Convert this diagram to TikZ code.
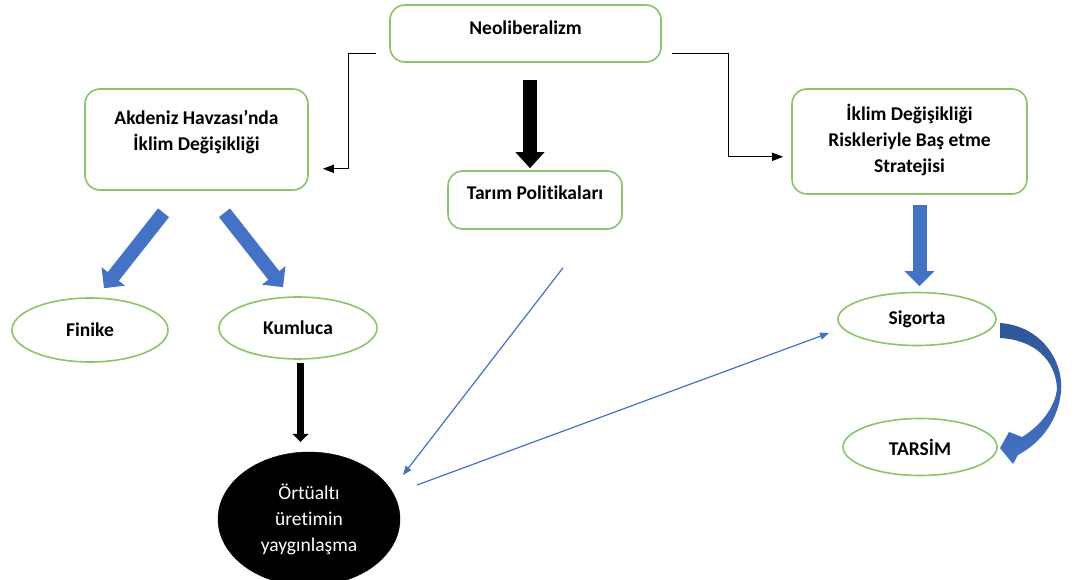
\documentclass[tikz,border=0pt]{standalone}
\usepackage{fontspec}
\setmainfont{Carlito}[Ligatures=NoCommon]
\usetikzlibrary{arrows.meta,calc,shapes.geometric}
\definecolor{boxgreen}{HTML}{8CC46C}
\definecolor{oblue}{HTML}{4472C4}
\definecolor{dblue}{HTML}{2F5597}
\tikzset{
 box/.style={draw=boxgreen, line width=1.6pt, rounded corners=15pt, fill=white, inner sep=0pt},
 oval/.style={draw=boxgreen, line width=1.6pt, ellipse, inner sep=0pt, fill=white,
   font=\fontsize{19.5}{26}\selectfont\bfseries},
 lbl/.style={font=\fontsize{19.5}{26}\selectfont\bfseries, align=center, inner sep=0pt},
 elbow/.style={draw=black, line width=1.2pt, -{Triangle[length=11pt,width=8pt]}},
 fatblue/.style={draw=oblue, line width=14pt, -{Triangle[length=15pt,width=29pt]}},
 fatblack/.style={draw=black, line width=14pt, -{Triangle[length=16pt,width=28pt]}},
 midblack/.style={draw=black, line width=7.5pt, -{Triangle[length=8pt,width=16pt]}},
 thinblue/.style={draw=oblue, line width=1.2pt, -{Triangle[length=9pt,width=7pt]}},
}
\begin{document}
\begin{tikzpicture}[x=1pt,y=-1pt]
\fill[white] (0,0) rectangle (1075,580);
\useasboundingbox (0,0) rectangle (1075,580);
\clip (0,0) rectangle (1075,580);

% boxes
\node[box, minimum width=271pt, minimum height=57pt] (neo) at (525.5,33.5) {};
\node[lbl] (neol) at (525.5,28) {Neoliberalizm};
\node[box, minimum width=223pt, minimum height=101pt] (akd) at (196.5,139.5) {};
\node[lbl] (akdl) at (196.5,132) {Akdeniz Havzası’nda\\İklim Değişikliği};
\node[box, minimum width=235pt, minimum height=105pt] (str) at (909.5,141.5) {};
\node[lbl] (strl) at (909.5,140) {İklim Değişikliği\\Riskleriyle Baş etme\\Stratejisi};
\node[box, minimum width=174pt, minimum height=58pt] (tar) at (535,200) {};
\node[lbl] (tarl) at (535,193) {Tarım Politikaları};

% ellipses
\node[oval, minimum width=156pt, minimum height=64pt] (fin) at (90,330) {Finike};
\node[oval, minimum width=158pt, minimum height=62pt] (kum) at (298,328) {Kumluca};
\node[oval, minimum width=158pt, minimum height=53pt] (sig) at (917,319) {Sigorta};
\node[oval, minimum width=154pt, minimum height=57pt] (tars) at (920,447) {TARSİM};
\node[ellipse, fill=black, draw=black, inner sep=0pt, minimum width=182pt, minimum height=134pt,
  text=white, align=center, font=\fontsize{19.5}{26}\selectfont] (ort) at (309,519)
  {Örtüaltı\\üretimin\\yaygınlaşma};

% elbow connectors
\draw[elbow] ($(neo.south west)+(-13,-9)$) -- ++(-28,0) |- ($(akd.south east)+(14,-22)$);
\draw[elbow] ($(neo.south east)+(10,-9)$) -- ++(57,0) |- ($(str.south west)+(-8,-38)$);

% fat arrows
\draw[fatblack] ($(neo.south)+(4.5,17)$) -- ($(tar.north)+(-5,-2)$);
\draw[fatblue] ($(akd.south)+(-33,22)$) -- ($(fin.north)+(14,-9)$);
\draw[fatblue] ($(akd.south)+(28,22)$) -- ($(kum.north)+(-15,-9)$);
\draw[fatblue] ($(str.south)+(10,10)$) -- ($(sig.north)+(2.5,-5.5)$);
\draw[midblack] ($(kum.south)+(2.5,3)$) -- ($(ort.north)+(-8.5,-10)$);

% thin blue arrows
\draw[thinblue] ($(tar.south)+(28,38)$) -- ($(ort.center)+(94,-44)$);
\draw[thinblue] ($(ort.center)+(108,-34)$) -- ($(sig.center)+(-88,14)$);

% curved arrow Sigorta -> TARSIM
\shade[top color=dblue, bottom color=oblue]
 (1000,323) .. controls (1042,326) and (1064,362) .. (1061,392)
 .. controls (1058,420) and (1042,442) .. (1018,455)
 -- (1013,464) -- (1000,448) -- (1009,432) -- (1022,437)
 .. controls (1042,425) and (1056,405) .. (1057,388)
 .. controls (1055,360) and (1035,340) .. (1000,338) -- cycle;
\end{tikzpicture}
\end{document}
